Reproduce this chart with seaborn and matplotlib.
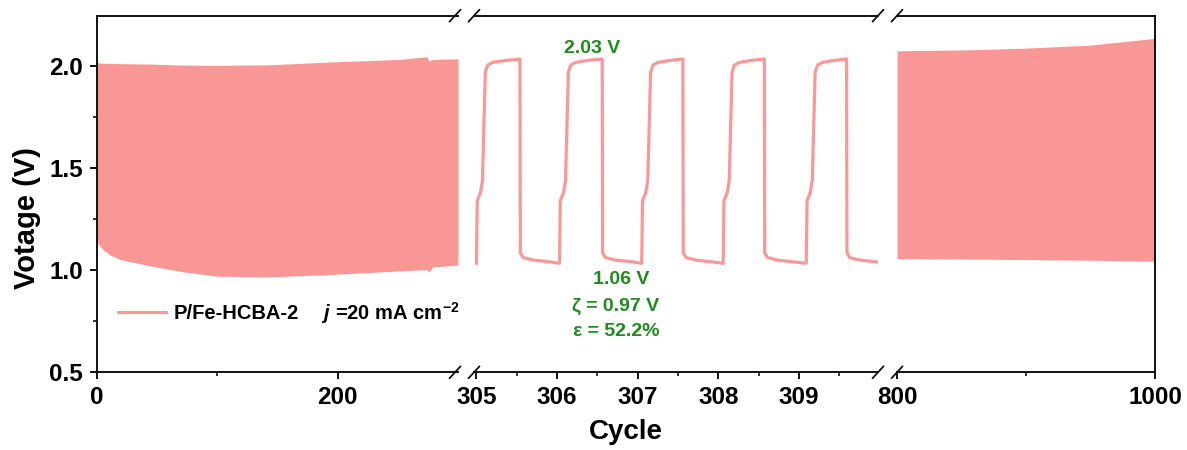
import matplotlib
matplotlib.use("Agg")
import matplotlib.pyplot as plt
import seaborn as sns
from matplotlib.lines import Line2D
from matplotlib.ticker import FixedLocator

# ---------------- data ----------------
# cycles 0-300: envelope of the charge/discharge voltage
seg1_cycle = [0, 0.8, 5.5, 11, 19.6, 44.5, 72, 100, 141, 197, 252, 274, 276, 279, 300]
seg1_upper = [2.033, 2.016, 2.014, 2.013, 2.012, 2.010, 2.005, 2.004, 2.006, 2.021,
              2.033, 2.046, 2.025, 2.033, 2.036]
seg1_lower = [1.180, 1.130, 1.098, 1.074, 1.052, 1.021, 0.992, 0.971, 0.967, 0.980,
              0.997, 1.003, 0.992, 1.016, 1.025]

# cycles 305-310: detailed voltage profile
profile_cycle = [
    305.000, 305.010, 305.050, 305.075, 305.110, 305.140, 305.200, 305.350, 305.540,
    305.545, 305.580, 305.700, 305.900, 306.030,
    306.040, 306.080, 306.105, 306.140, 306.170, 306.230, 306.380, 306.560,
    306.565, 306.600, 306.720, 306.920, 307.050,
    307.060, 307.100, 307.125, 307.160, 307.190, 307.250, 307.400, 307.560,
    307.565, 307.600, 307.720, 307.920, 308.060,
    308.070, 308.110, 308.135, 308.170, 308.200, 308.260, 308.410, 308.570,
    308.575, 308.610, 308.730, 308.930, 309.090,
    309.100, 309.140, 309.165, 309.200, 309.230, 309.290, 309.440, 309.590,
    309.595, 309.630, 309.750, 309.980,
]
profile_voltage = [
    1.033, 1.340, 1.380, 1.440, 1.970, 2.005, 2.018, 2.027, 2.034,
    1.085, 1.062, 1.050, 1.042, 1.034,
    1.340, 1.380, 1.440, 1.970, 2.005, 2.018, 2.028, 2.035,
    1.085, 1.062, 1.050, 1.042, 1.034,
    1.340, 1.380, 1.440, 1.970, 2.005, 2.018, 2.028, 2.035,
    1.085, 1.062, 1.050, 1.041, 1.034,
    1.340, 1.380, 1.440, 1.970, 2.005, 2.018, 2.028, 2.035,
    1.085, 1.062, 1.050, 1.041, 1.034,
    1.340, 1.380, 1.440, 1.970, 2.005, 2.018, 2.028, 2.035,
    1.085, 1.062, 1.050, 1.040,
]

# cycles 800-1000: envelope
seg3_cycle = [800, 850, 900, 950, 1000]
seg3_upper = [2.075, 2.079, 2.088, 2.103, 2.136]
seg3_lower = [1.057, 1.055, 1.052, 1.049, 1.044]

series_label = "P/Fe-HCBA-2"
y_ticks = [0.5, 1.0, 1.5, 2.0]
x1_ticks, x1_minor = [0, 200], [100]
x2_ticks = [305, 306, 307, 308, 309]
x2_minor = [305.5, 306.5, 307.5, 308.5, 309.5]
x3_ticks, x3_minor = [800, 1000], [900]

# ---------------- style ----------------
sns.set_style("ticks")
plt.rcParams["font.family"] = ["Liberation Sans", "DejaVu Sans"]
plt.rcParams["font.weight"] = "bold"
plt.rcParams["mathtext.default"] = "regular"
plt.rcParams["text.color"] = "black"

FILL = "#F99797"
LINE = "#F89898"
GREEN = "#1C8C1C"
INK = "#111111"
W, H = 1187, 450

fig = plt.figure(figsize=(W / 100, H / 100), dpi=100)


def fx(px):
    return px / W


bottom = 1 - 372.3 / H
height = (372.3 - 15.7) / H
ax1 = fig.add_axes([fx(97), bottom, fx(458 - 97), height])
ax2 = fig.add_axes([fx(474), bottom, fx(878 - 474), height])
ax3 = fig.add_axes([fx(897), bottom, fx(1155 - 897), height])
axes = [ax1, ax2, ax3]

ax1.fill_between(seg1_cycle, seg1_lower, seg1_upper, color=FILL, linewidth=0)
ax3.fill_between(seg3_cycle, seg3_lower, seg3_upper, color=FILL, linewidth=0)
sns.lineplot(x=profile_cycle, y=profile_voltage, ax=ax2, sort=False, estimator=None,
             color=LINE, linewidth=2.3, label=series_label, legend=False)

ax1.set_xlim(0, 300)
ax2.set_xlim(304.97, 309.98)
ax3.set_xlim(800, 1000)

for ax in axes:
    ax.set_ylim(0.5, 2.247)
    for s in ax.spines.values():
        s.set_linewidth(1.4)
        s.set_color(INK)
    ax.tick_params(axis="both", which="major", direction="out", length=5, width=1.4,
                   labelsize=17.5, pad=5, colors=INK, labelcolor="black")
    ax.tick_params(axis="both", which="minor", direction="out", length=3, width=1.2,
                   colors=INK)
    ax.tick_params(top=False, right=False)
    ax.set_xlabel("")
    ax.set_ylabel("")

ax1.set_yticks(y_ticks)
ax1.set_yticklabels([f"{v:.1f}" for v in y_ticks])
ax1.yaxis.set_minor_locator(FixedLocator([0.75, 1.25, 1.75]))
ax1.spines["right"].set_visible(False)
ax2.spines["left"].set_visible(False)
ax2.spines["right"].set_visible(False)
ax3.spines["left"].set_visible(False)
for ax in (ax2, ax3):
    ax.tick_params(axis="y", which="both", left=False, labelleft=False)

ax1.set_xticks(x1_ticks)
ax1.set_xticklabels([str(v) for v in x1_ticks])
ax1.xaxis.set_minor_locator(FixedLocator(x1_minor))
ax2.set_xticks(x2_ticks)
ax2.set_xticklabels([str(v) for v in x2_ticks])
ax2.xaxis.set_minor_locator(FixedLocator(x2_minor))
ax3.set_xticks(x3_ticks)
ax3.set_xticklabels([str(v) for v in x3_ticks])
ax3.xaxis.set_minor_locator(FixedLocator(x3_minor))

for ax in axes:
    for lab in ax.get_xticklabels() + ax.get_yticklabels():
        lab.set_fontweight("bold")

# axis-break marks on top and bottom spines
for cx in (455, 474, 878, 897):
    for cy in (15.7, 372.3):
        fig.add_artist(Line2D([fx(cx - 5.5), fx(cx + 5.5)],
                              [1 - (cy + 6) / H, 1 - (cy - 6) / H],
                              transform=fig.transFigure, color=INK, lw=1.3))

# axis titles
fig.text(fx(626), 1 - 431.7 / H, "Cycle", ha="center", va="center",
         fontsize=20, fontweight="bold", color="black")
fig.text(fx(27), 1 - 218 / H, "Votage (V)", ha="center", va="center",
         rotation=90, fontsize=21, fontweight="bold", color="black")

# annotations on the detailed profile
note = dict(color=GREEN, fontsize=14, fontweight="bold", ha="center", va="center")
ax2.text(306.43, 2.087, "2.03 V", **note)
ax2.text(306.79, 0.954, "1.06 V", **note)
ax2.text(306.72, 0.824, "ζ = 0.97 V", **note)
ax2.text(306.73, 0.698, "ε = 52.2%", **note)

# legend and current density note
handle = ax2.get_lines()[0]
leg = fig.legend(handles=[handle], labels=[series_label], loc="center left",
                 bbox_to_anchor=(fx(118), 1 - 313.3 / H), frameon=False,
                 prop={"size": 14.5, "weight": "bold"}, handlelength=2.4,
                 handletextpad=0.35, borderpad=0, borderaxespad=0)
for t in leg.get_texts():
    t.set_color("black")
fig.text(fx(323), 1 - 313.3 / H, "j", fontsize=14.5, fontweight="bold",
         fontstyle="italic", ha="left", va="center", color="black")
fig.text(fx(335), 1 - 313.3 / H, "=20 mA cm$^{-2}$", fontsize=14.5,
         fontweight="bold", ha="left", va="center", color="black")

fig.savefig("out.png", dpi=100)
